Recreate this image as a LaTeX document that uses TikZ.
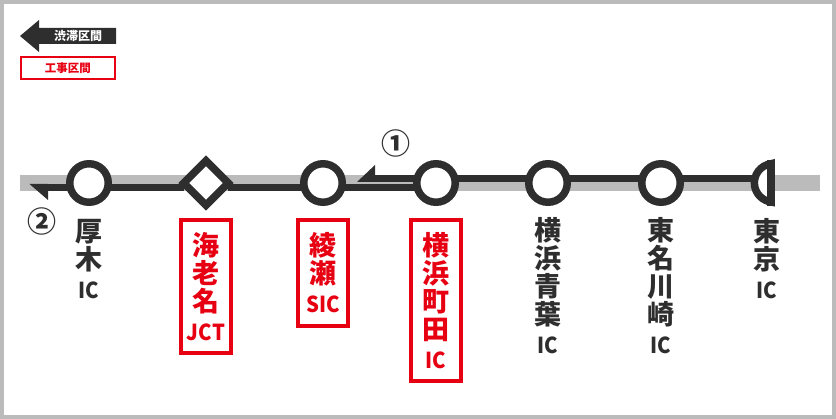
\documentclass[tikz,border=0pt]{standalone}
\usepackage{fontspec}
\setmainfont{Noto Sans CJK JP}
\newfontfamily\icfont[FakeStretch=0.92]{Noto Sans CJK JP Bold}
\usetikzlibrary{shapes.geometric,calc}
\definecolor{roaddark}{HTML}{2E2E2E}
\definecolor{roadgray}{HTML}{BBBBBB}
\definecolor{workred}{HTML}{E60012}
\newcommand{\bigtext}{\fontsize{27}{28}\selectfont}
\newcommand{\smalltext}{\icfont\fontsize{22}{20}\selectfont}
\tikzset{
  icnode/.style={circle, draw=roaddark, fill=white, line width=7.5pt, minimum size=38.5pt, inner sep=0pt, outer sep=0pt},
  jctnode/.style={diamond, draw=roaddark, fill=white, line width=7.5pt, minimum size=44.5pt, inner sep=0pt, outer sep=0pt},
  roadline/.style={roaddark, line width=7.3pt},
  namelabel/.style={anchor=north, align=center, inner sep=0pt, text=roaddark, font=\bfseries\bigtext},
  workbox/.style={draw=workred, line width=4pt, text=workred, align=center, minimum width=50pt, inner sep=0pt, font=\bfseries\bigtext},
  numlabel/.style={text=roaddark, inner sep=0pt, font=\bfseries\fontsize{29}{29}\selectfont},
}
\begin{document}
\begin{tikzpicture}[x=1pt,y=-1pt]
  \useasboundingbox (0,0) rectangle (836,419);
  \draw[roadgray, line width=4pt] (2,2) rectangle (834,417); % frame

  % legend
  \fill[roaddark] (20,36) -- (39,20) -- (39,28) -- (116,28) -- (116,44) -- (39,44) -- (39,52) -- cycle;
  \node[text=white, inner sep=0pt, font=\bfseries\fontsize{12}{12}\selectfont] (jamlegend) at (78,36) {渋滞区間};
  \node[draw=workred, line width=2pt, minimum width=94pt, minimum height=22pt, inner sep=0pt, text=workred, font=\bfseries\fontsize{11.5}{11.5}\selectfont] (worklegend) at (68,68) {工事区間};

  % gray band
  \coordinate (bandleft) at (20,183);
  \coordinate (bandright) at (820,183);
  \draw[roadgray, line width=16pt] (bandleft) -- (bandright);

  \node[icnode] (atsugi) at (89,183) {};
  \node[jctnode] (ebina) at (206,183) {};
  \node[icnode] (ayase) at (323,183) {};
  \node[icnode] (machida) at (436,183) {};
  \node[icnode] (aoba) at (548,183) {};
  \node[icnode] (kawasaki) at (661,183) {};

  % half circle at the end
  \draw[roaddark, fill=white, line width=7.5pt] (771,163.75) arc[start angle=-97.8, end angle=-262.2, radius=19.25] -- cycle;
  \draw[roaddark, line width=8pt] (771,160) -- (771,206);
  \coordinate (tokyo) at (754.4,183);

  % lower line, going left
  \coordinate (jamtwo) at (48,187.5);
  \draw[roadline] ($(machida.west)+(0,4.5)$) -- ($(ayase.east)+(0,4.5)$);
  \draw[roadline] ($(ayase.west)+(0,4.5)$) -- ($(ebina.east)+(0,4.5)$);
  \draw[roadline] ($(ebina.west)+(0,4.5)$) -- ($(atsugi.east)+(0,4.5)$);
  \draw[roadline] ($(atsugi.west)+(0,4.5)$) -- (jamtwo);
  \fill[roaddark] (29.5,184) -- (48,184) -- (48,200) -- cycle;

  % upper line
  \coordinate (jamone) at (375,178.5);
  \draw[roadline] ($(machida.west)+(0,-4.5)$) -- (jamone);
  \fill[roaddark] (357,182) -- (375,165) -- (375,182) -- cycle;
  \draw[roadline] ($(machida.east)+(0,-4.5)$) -- ($(aoba.west)+(0,-4.5)$);
  \draw[roadline] ($(aoba.east)+(0,-4.5)$) -- ($(kawasaki.west)+(0,-4.5)$);
  \draw[roadline] ($(kawasaki.east)+(0,-4.5)$) -- ($(tokyo)+(0,-4.5)$);

  \node[numlabel] (numone) at (395.8,143.3) {①};
  \node[numlabel] (numtwo) at (42.2,221.7) {②};

  % names
  \node[namelabel] (atsuginame) at (89,219.5) {厚\\木\\[1pt]{\smalltext IC}};
  \node[workbox, minimum height=133pt] (ebinaname) at (206,286.6) {海\\老\\名\\[1pt]{\smalltext JCT}};
  \node[workbox, minimum height=106pt] (ayasename) at (323,273) {綾\\瀬\\[1pt]{\smalltext SIC}};
  \node[workbox, minimum height=161pt] (machidaname) at (436,300.3) {横\\浜\\町\\田\\[1pt]{\smalltext IC}};
  \node[namelabel] (aobaname) at (548,217.5) {横\\浜\\青\\葉\\[1pt]{\smalltext IC}};
  \node[namelabel] (kawasakiname) at (661,217.5) {東\\名\\川\\崎\\[1pt]{\smalltext IC}};
  \node[namelabel] (tokyoname) at (767,218.5) {東\\京\\[1pt]{\smalltext IC}};
\end{tikzpicture}
\end{document}
